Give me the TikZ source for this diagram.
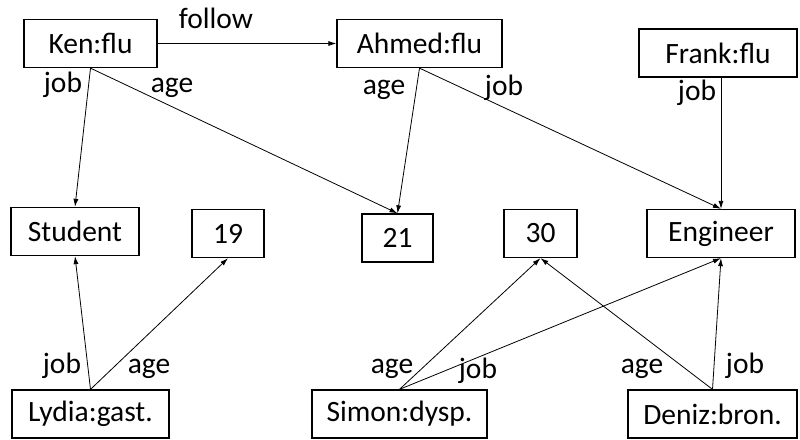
\documentclass[tikz,border=0pt]{standalone}
\usepackage{fontspec}
\setmainfont{Carlito}
\usetikzlibrary{arrows.meta,calc}
\begin{document}
\begin{tikzpicture}[x=1pt,y=-1pt,
  every node/.style={font=\fontsize{29.5}{32}\selectfont, inner sep=0pt},
  entity/.style={draw, line width=1.3pt, minimum width=#1, minimum height=48pt},
  rel/.style={line width=0.8pt, -{Latex[length=8pt,width=5pt]}},
  lbl/.style={anchor=base}]
\useasboundingbox (0,0) rectangle (800,439);
% boxes (centre, width)
\node[entity=133pt] (ken)     at (90.5,43.5)  {Ken:flu};
\node[entity=165pt] (ahmed)   at (419.5,43.5) {Ahmed:flu};
\node[entity=158pt] (frank)   at (718,53)     {Frank:flu};
\node[entity=128pt] (student) at (75,231.5)   {Student};
\node[entity=72pt]  (n19)     at (228,233.5)  {19};
\node[entity=71pt]  (n21)     at (397.5,238)  {21};
\node[entity=73pt]  (n30)     at (540.5,233.5){30};
\node[entity=148pt] (eng)     at (721,233.5)  {Engineer};
\node[entity=157pt] (lydia)   at (90.5,414)   {Lydia:gast.};
\node[entity=175pt] (simon)   at (399.5,414)  {Simon:dysp.};
\node[entity=169pt] (deniz)   at (712.5,414)  {Deniz:bron.};
% relations
\draw[rel] (ken.east) -- (ahmed.west);
\draw[rel] (ken.south) -- (student.north);
\draw[rel] (ken.south) -- (n21.north);
\draw[rel] (ahmed.south) -- (n21.north);
\draw[rel] (ahmed.south) -- (eng.north);
\draw[rel] (frank.south -| eng.north) -- (eng.north);
\draw[rel] (lydia.north) -- (student.south);
\draw[rel] (lydia.north) -- (n19.south);
\draw[rel] (simon.north) -- (n30.south);
\draw[rel] (simon.north) -- (eng.south);
\draw[rel] (deniz.north) -- (n30.south);
\draw[rel] (deniz.north) -- (eng.south);
% labels
\node[lbl] (lfollow) at (216,28)  {follow};
\node[lbl] (l1) at (63,92)   {job};
\node[lbl] (l2) at (172,92)  {age};
\node[lbl] (l3) at (384,94)  {age};
\node[lbl] (l4) at (504,95)  {job};
\node[lbl] (l5) at (697,100) {job};
\node[lbl] (l6) at (62,373)  {job};
\node[lbl] (l7) at (149,373) {age};
\node[lbl] (l8) at (392,373) {age};
\node[lbl] (l9) at (478,378) {job};
\node[lbl] (l10) at (642,373) {age};
\node[lbl] (l11) at (745,373) {job};
\end{tikzpicture}
\end{document}
